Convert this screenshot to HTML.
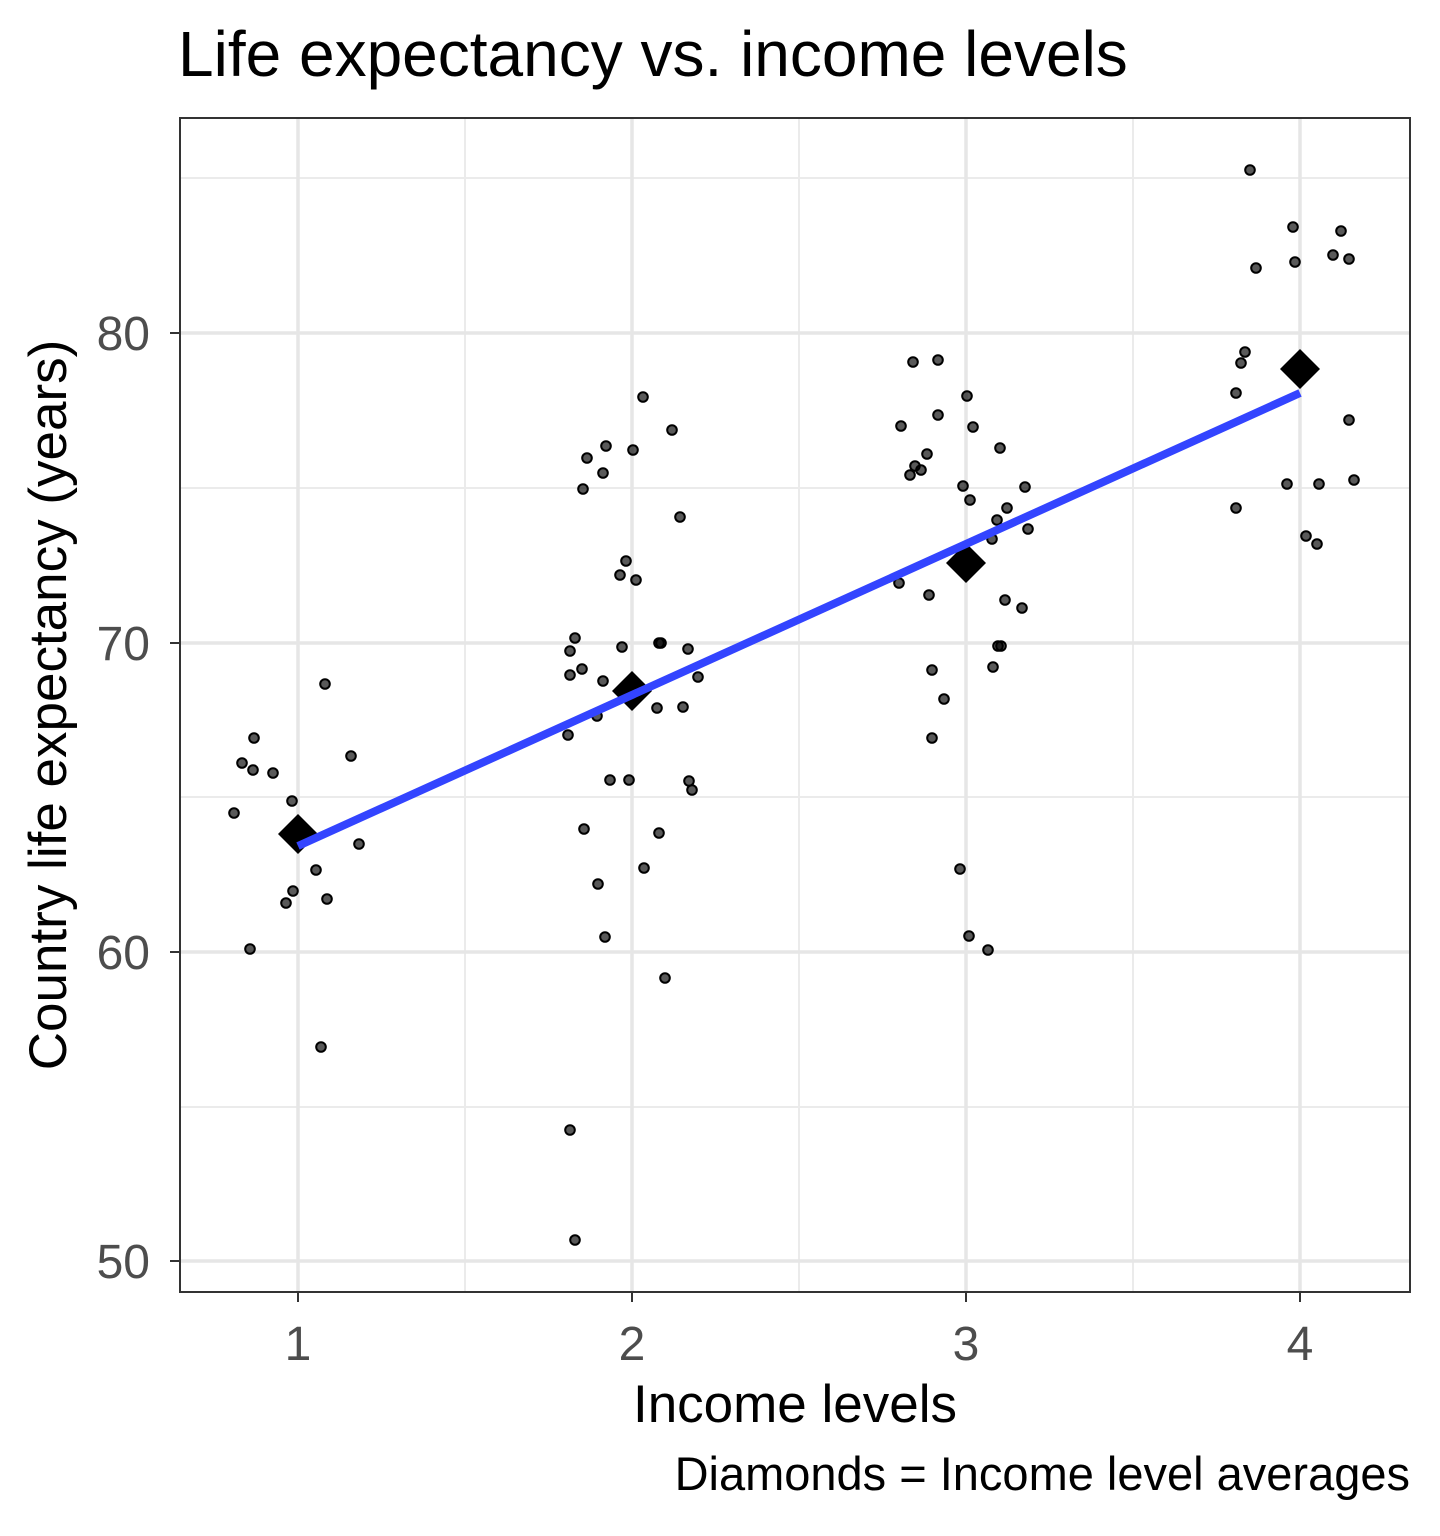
<!DOCTYPE html>
<html><head><style>body{margin:0;background:#fff}svg{display:block}</style></head><body>
<svg width="1440" height="1536" xmlns="http://www.w3.org/2000/svg" font-family="Liberation Sans, Arial, sans-serif">
<rect width="1440" height="1536" fill="#fff"/>
<text x="178" y="76" font-size="64" fill="#000">Life expectancy vs. income levels</text>
<g stroke="#ebebeb" stroke-width="2">
<line x1="465" y1="118" x2="465" y2="1292"/><line x1="799" y1="118" x2="799" y2="1292"/><line x1="1133" y1="118" x2="1133" y2="1292"/>
<line x1="180" y1="178" x2="1410" y2="178"/><line x1="180" y1="488" x2="1410" y2="488"/><line x1="180" y1="797" x2="1410" y2="797"/><line x1="180" y1="1107" x2="1410" y2="1107"/>
</g>
<g stroke="#e6e6e6" stroke-width="3.5">
<line x1="298" y1="118" x2="298" y2="1292"/><line x1="632" y1="118" x2="632" y2="1292"/><line x1="966" y1="118" x2="966" y2="1292"/><line x1="1300" y1="118" x2="1300" y2="1292"/>
<line x1="180" y1="333" x2="1410" y2="333"/><line x1="180" y1="643" x2="1410" y2="643"/><line x1="180" y1="952" x2="1410" y2="952"/><line x1="180" y1="1261" x2="1410" y2="1261"/>
</g>
<g fill="rgba(0,0,0,0.65)" stroke="#000" stroke-width="2">
<circle cx="234" cy="813" r="4.8"/><circle cx="242" cy="763" r="4.8"/><circle cx="254" cy="738" r="4.8"/><circle cx="253" cy="770" r="4.8"/><circle cx="273" cy="773" r="4.8"/><circle cx="292" cy="801" r="4.8"/><circle cx="250" cy="949" r="4.8"/><circle cx="286" cy="903" r="4.8"/><circle cx="293" cy="891" r="4.8"/><circle cx="316" cy="870" r="4.8"/><circle cx="327" cy="899" r="4.8"/><circle cx="325" cy="684" r="4.8"/><circle cx="351" cy="756" r="4.8"/><circle cx="359" cy="844" r="4.8"/><circle cx="321" cy="1047" r="4.8"/>
<circle cx="570" cy="651" r="4.8"/><circle cx="570" cy="675" r="4.8"/><circle cx="575" cy="638" r="4.8"/><circle cx="582" cy="669" r="4.8"/><circle cx="568" cy="735" r="4.8"/><circle cx="587" cy="458" r="4.8"/><circle cx="583" cy="489" r="4.8"/><circle cx="606" cy="446" r="4.8"/><circle cx="603" cy="473" r="4.8"/><circle cx="633" cy="450" r="4.8"/><circle cx="643" cy="397" r="4.8"/><circle cx="672" cy="430" r="4.8"/><circle cx="680" cy="517" r="4.8"/><circle cx="626" cy="561" r="4.8"/><circle cx="620" cy="575" r="4.8"/><circle cx="636" cy="580" r="4.8"/><circle cx="622" cy="647" r="4.8"/><circle cx="603" cy="681" r="4.8"/><circle cx="597" cy="716" r="4.8"/><circle cx="610" cy="780" r="4.8"/><circle cx="629" cy="780" r="4.8"/><circle cx="659" cy="643" r="4.8"/><circle cx="661" cy="643" r="4.8"/><circle cx="688" cy="649" r="4.8"/><circle cx="698" cy="677" r="4.8"/><circle cx="683" cy="707" r="4.8"/><circle cx="657" cy="708" r="4.8"/><circle cx="689" cy="781" r="4.8"/><circle cx="692" cy="790" r="4.8"/><circle cx="584" cy="829" r="4.8"/><circle cx="598" cy="884" r="4.8"/><circle cx="605" cy="937" r="4.8"/><circle cx="644" cy="868" r="4.8"/><circle cx="659" cy="833" r="4.8"/><circle cx="665" cy="978" r="4.8"/><circle cx="570" cy="1130" r="4.8"/><circle cx="575" cy="1240" r="4.8"/>
<circle cx="901" cy="426" r="4.8"/><circle cx="913" cy="362" r="4.8"/><circle cx="938" cy="360" r="4.8"/><circle cx="938" cy="415" r="4.8"/><circle cx="927" cy="454" r="4.8"/><circle cx="910" cy="475" r="4.8"/><circle cx="915" cy="466" r="4.8"/><circle cx="921" cy="470" r="4.8"/><circle cx="967" cy="396" r="4.8"/><circle cx="973" cy="427" r="4.8"/><circle cx="1000" cy="448" r="4.8"/><circle cx="963" cy="486" r="4.8"/><circle cx="970" cy="500" r="4.8"/><circle cx="1025" cy="487" r="4.8"/><circle cx="1007" cy="508" r="4.8"/><circle cx="997" cy="520" r="4.8"/><circle cx="1028" cy="529" r="4.8"/><circle cx="992" cy="539" r="4.8"/><circle cx="899" cy="583" r="4.8"/><circle cx="929" cy="595" r="4.8"/><circle cx="1005" cy="600" r="4.8"/><circle cx="1022" cy="608" r="4.8"/><circle cx="998" cy="646" r="4.8"/><circle cx="1001" cy="646" r="4.8"/><circle cx="932" cy="670" r="4.8"/><circle cx="993" cy="667" r="4.8"/><circle cx="944" cy="699" r="4.8"/><circle cx="932" cy="738" r="4.8"/><circle cx="960" cy="869" r="4.8"/><circle cx="969" cy="936" r="4.8"/><circle cx="988" cy="950" r="4.8"/>
<circle cx="1250" cy="170" r="4.8"/><circle cx="1293" cy="227" r="4.8"/><circle cx="1341" cy="231" r="4.8"/><circle cx="1256" cy="268" r="4.8"/><circle cx="1295" cy="262" r="4.8"/><circle cx="1333" cy="255" r="4.8"/><circle cx="1349" cy="259" r="4.8"/><circle cx="1245" cy="352" r="4.8"/><circle cx="1241" cy="363" r="4.8"/><circle cx="1236" cy="393" r="4.8"/><circle cx="1349" cy="420" r="4.8"/><circle cx="1354" cy="480" r="4.8"/><circle cx="1287" cy="484" r="4.8"/><circle cx="1319" cy="484" r="4.8"/><circle cx="1236" cy="508" r="4.8"/><circle cx="1306" cy="536" r="4.8"/><circle cx="1317" cy="544" r="4.8"/>
</g>
<g fill="#000">
<polygon points="298,814 318,834 298,854 278,834"/><polygon points="632,671 652,691 632,711 612,691"/><polygon points="966,543 986,563 966,583 946,563"/><polygon points="1300,349 1320,369 1300,389 1280,369"/>
</g>
<line x1="298" y1="846" x2="1300" y2="393" stroke="#3344ff" stroke-width="8"/>
<rect x="180" y="118" width="1230" height="1174" fill="none" stroke="#333" stroke-width="2"/>
<g stroke="#333" stroke-width="2">
<line x1="170" y1="333" x2="180" y2="333"/><line x1="170" y1="643" x2="180" y2="643"/><line x1="170" y1="952" x2="180" y2="952"/><line x1="170" y1="1261" x2="180" y2="1261"/>
<line x1="298" y1="1292" x2="298" y2="1302"/><line x1="632" y1="1292" x2="632" y2="1302"/><line x1="966" y1="1292" x2="966" y2="1302"/><line x1="1300" y1="1292" x2="1300" y2="1302"/>
</g>
<g font-size="48" fill="#4d4d4d" text-anchor="end">
<text x="150" y="350">80</text><text x="150" y="660">70</text><text x="150" y="969">60</text><text x="150" y="1278">50</text>
</g>
<g font-size="48" fill="#4d4d4d" text-anchor="middle">
<text x="298" y="1360">1</text><text x="632" y="1360">2</text><text x="966" y="1360">3</text><text x="1300" y="1360">4</text>
</g>
<text x="795" y="1422" font-size="53" text-anchor="middle" fill="#000">Income levels</text>
<text transform="translate(66,705) rotate(-90)" font-size="53" text-anchor="middle" fill="#000">Country life expectancy (years)</text>
<text x="1410" y="1490" font-size="47" text-anchor="end" fill="#000">Diamonds = Income level averages</text>
</svg>
</body></html>
